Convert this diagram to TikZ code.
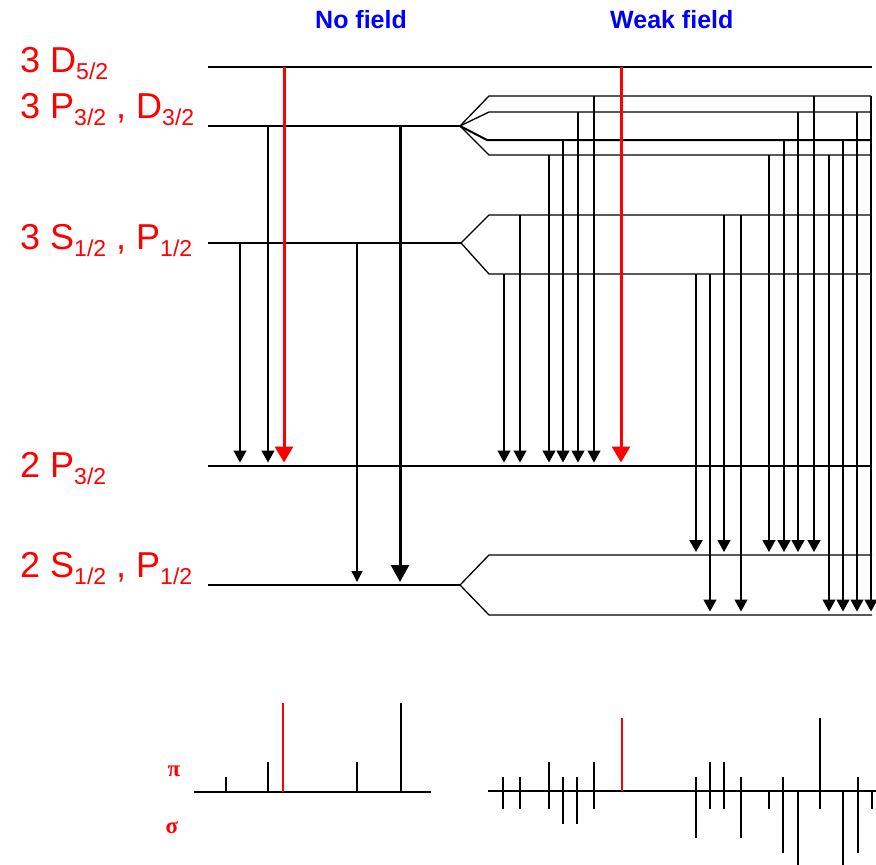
\documentclass[tikz,border=0pt]{standalone}
\usepackage{fontspec}
\setmainfont{Liberation Sans}
\newfontfamily\grkfont{Liberation Serif}
\usetikzlibrary{arrows.meta}
\newcommand{\lvsub}[1]{\raisebox{-7pt}{\fontsize{23}{23}\selectfont #1}}
\tikzset{
  lvl/.style={line width=1.3pt, black},
  lvlbold/.style={line width=2pt, black},
  tr/.style={line width=1.3pt, -{Triangle[width=13pt,length=12pt]}},
  trred/.style={red, line width=3pt, -{Triangle[width=18pt,length=16pt]}},
  trthick/.style={line width=3pt, -{Triangle[width=18pt,length=17pt]}},
  lab/.style={red, font=\fontsize{36}{36}\selectfont, anchor=base west, inner sep=0pt},
  ttl/.style={blue, font=\fontsize{25}{25}\selectfont\bfseries, anchor=base west, inner sep=0pt},
  pol/.style={red, font=\grkfont\fontsize{23}{23}\selectfont\bfseries, inner sep=0pt},
  spec/.style={line width=2pt},
  specred/.style={red, line width=1.4pt},
  sbase/.style={line width=2pt}
}
\begin{document}
\begin{tikzpicture}[x=1pt,y=-1pt]
\useasboundingbox (0,0) rectangle (876,865);
% titles
\node[ttl] (t1) at (315,28) {No field};
\node[ttl] (t2) at (610,28) {Weak field};
% labels
\node[lab] (l1) at (20,72) {3 D\lvsub{5/2}};
\node[lab] (l2) at (20,118) {3 P\lvsub{3/2} , D\lvsub{3/2}};
\node[lab] (l3) at (20,249) {3 S\lvsub{1/2} , P\lvsub{1/2}};
\node[lab] (l4) at (20,477) {2 P\lvsub{3/2}};
\node[lab] (l5) at (20,577) {2 S\lvsub{1/2} , P\lvsub{1/2}};
% level coordinates
\coordinate (D0) at (208,67);   \coordinate (D1) at (872,67);
\coordinate (P0) at (208,126);  \coordinate (Pf) at (460,126);
\coordinate (S0) at (208,243);  \coordinate (Sf) at (461,243);
\coordinate (Q0) at (208,466);  \coordinate (Q1) at (872,466);
\coordinate (R0) at (208,585);  \coordinate (Rf) at (460,585);
% no-field levels
\draw[lvl] (D0) -- (D1);
\draw[lvl] (P0) -- (Pf);
\draw[lvl] (S0) -- (Sf);
\draw[lvl] (Q0) -- (Q1);
\draw[lvl] (R0) -- (Rf);
% weak field split levels
\draw[lvl] (Pf) -- (489,96) -- (871,96);
\draw[lvl] (Pf) -- (489,112) -- (871,112);
\draw[lvlbold] (Pf) -- (487,140) -- (871,140);
\draw[lvl] (Pf) -- (489,155) -- (871,155);
\draw[lvl] (Sf) -- (489,215) -- (871,215);
\draw[lvl] (Sf) -- (489,274) -- (871,274);
\draw[lvl] (Rf) -- (489,555) -- (872,555);
\draw[lvl] (Rf) -- (489,615) -- (872,615);
% no-field transitions
\draw[tr] (240,243) -- (240,462.5);
\draw[tr] (268,126) -- (268,462.5);
\draw[trred] (284,67) -- (284,462.5);
\draw[tr,-{Triangle[width=11pt,length=11pt]}] (357,243) -- (357,582);
\draw[trthick] (400,126) -- (400,582);
% weak-field transitions
\foreach \x/\ya/\yb in {
  594/96/462.5, 814/96/552, 871/96/611.5,
  578/112/462.5, 798/112/552, 857/112/611.5,
  563/140/462.5, 784/140/552, 843/140/611.5,
  549/155/462.5, 769/155/552, 829/155/611.5,
  520/215/462.5, 724/215/552, 741/215/611.5,
  504/274/462.5, 710/274/611.5}
  \draw[tr] (\x,\ya) -- (\x,\yb);
\draw[tr,line width=1.8pt] (696,274) -- (696,552);
\draw[trred] (621,67) -- (621,462.5);
% spectra
\node[pol] (pi) at (174,771) {π};
\node[pol] (sg) at (172,828) {σ};
\draw[sbase] (194,792) -- (431,792);
\foreach \x/\t in {226/777, 268/762, 357/762, 401/703}
  \draw[spec] (\x,792) -- (\x,\t);
\draw[specred] (283,792) -- (283,703);
\draw[sbase] (488,791) -- (876,791);
\foreach \x/\t/\b in {503/777/809, 520/777/809, 549/762/809, 563/777/824,
  577/777/824, 594/762/809, 696/777/838, 710/762/809, 724/762/809,
  741/777/838, 769/791/809, 783/777/853, 798/791/865, 820/718/809,
  843/791/865, 858/777/853, 872/791/809}
  \draw[spec] (\x,\t) -- (\x,\b);
\draw[specred] (622,791) -- (622,718);
\end{tikzpicture}
\end{document}
